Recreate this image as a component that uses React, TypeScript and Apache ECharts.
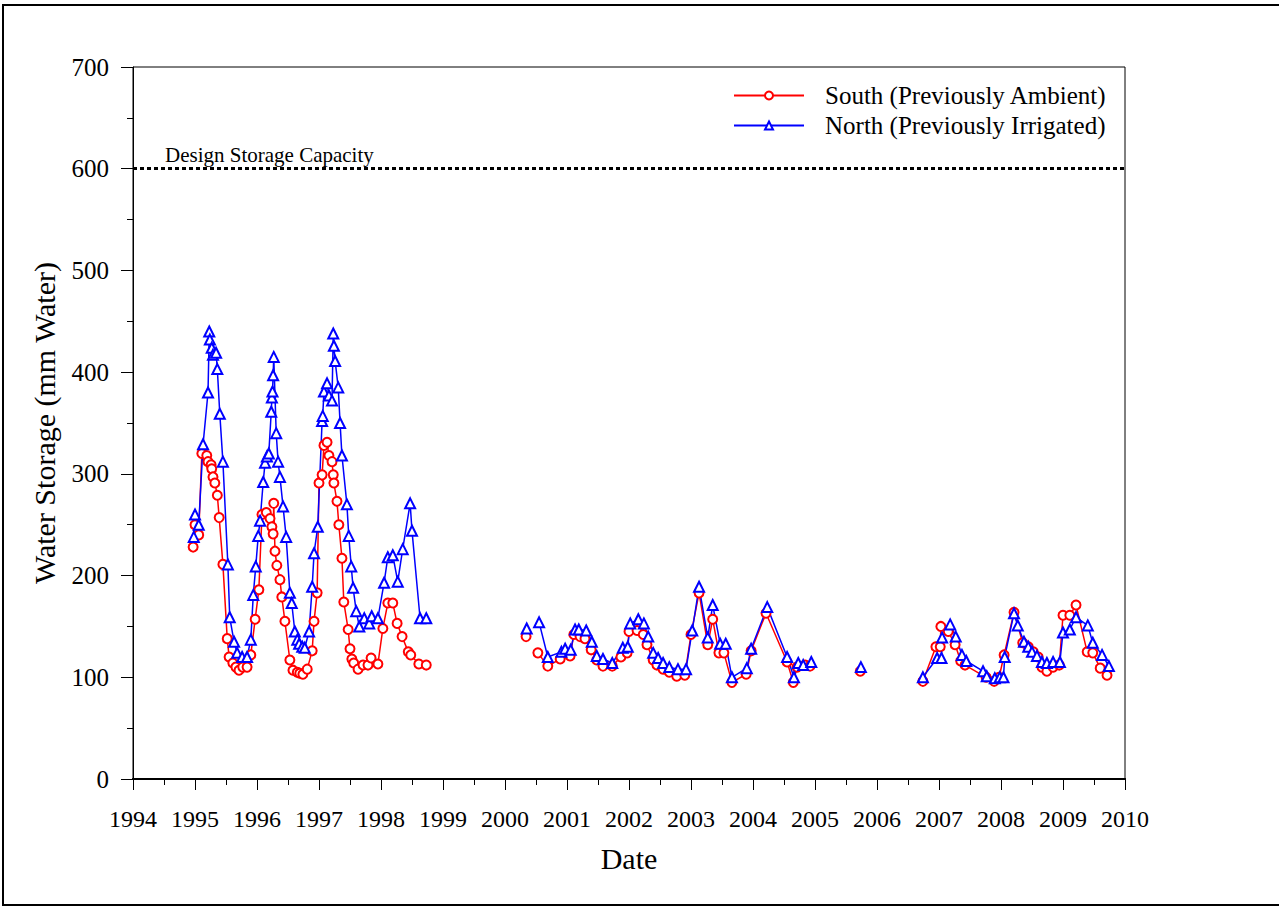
import React, { useEffect, useRef } from "react";
import * as echarts from "echarts";

type Pt = [number, number | null];

// South (Previously Ambient): [decimal year, water storage mm]; null = gap in record
const south: Pt[] = [
  [1994.97, 228], [1995.0, 250], [1995.06, 240], [1995.11, 320], [1995.19, 318], [1995.21, 312],
  [1995.26, 309], [1995.27, 305], [1995.29, 297], [1995.32, 291], [1995.36, 279], [1995.39, 257],
  [1995.45, 211], [1995.52, 138], [1995.55, 120], [1995.61, 114], [1995.66, 110], [1995.71, 107],
  [1995.77, 110], [1995.84, 110], [1995.9, 122], [1995.97, 157], [1996.03, 186], [1996.08, 260],
  [1996.15, 262], [1996.21, 256], [1996.24, 248], [1996.26, 241], [1996.27, 271], [1996.29, 224],
  [1996.32, 210], [1996.37, 196], [1996.4, 179], [1996.45, 155], [1996.53, 117], [1996.58, 107],
  [1996.65, 105], [1996.69, 104], [1996.74, 103], [1996.81, 108], [1996.89, 126], [1996.92, 155],
  [1996.97, 183], [1997.0, 291], [1997.05, 299], [1997.08, 328], [1997.13, 331], [1997.16, 318],
  [1997.21, 312], [1997.23, 299], [1997.24, 291], [1997.29, 273], [1997.32, 250], [1997.37, 217],
  [1997.4, 174], [1997.47, 147], [1997.5, 128], [1997.53, 118], [1997.56, 114], [1997.63, 108],
  [1997.71, 112], [1997.79, 112], [1997.84, 119], [1997.95, 113], [1998.03, 148], [1998.11, 173],
  [1998.19, 173], [1998.26, 153], [1998.34, 140], [1998.44, 125], [1998.48, 122], [1998.61, 113],
  [1998.73, 112],
  [1999.5, null],
  [2000.34, 140],
  [2000.45, null],
  [2000.53, 124], [2000.69, 111], [2000.89, 118], [2001.05, 121], [2001.11, 142], [2001.21, 140],
  [2001.29, 138], [2001.39, 127], [2001.48, 117], [2001.58, 111], [2001.73, 111], [2001.87, 120],
  [2001.97, 124], [2002.0, 145], [2002.13, 146], [2002.23, 142], [2002.29, 132], [2002.39, 117],
  [2002.45, 112], [2002.55, 108], [2002.65, 105], [2002.77, 101], [2002.9, 102], [2003.0, 142],
  [2003.13, 183], [2003.27, 132], [2003.35, 157], [2003.45, 124], [2003.53, 124], [2003.66, 95],
  [2003.89, 103], [2003.97, 126], [2004.21, 163], [2004.55, 115], [2004.65, 95], [2004.71, 110],
  [2004.84, 112], [2004.92, 111],
  [2005.3, null],
  [2005.73, 106],
  [2006.2, null],
  [2006.74, 96], [2006.95, 130], [2007.02, 130], [2007.03, 150], [2007.15, 145], [2007.26, 132],
  [2007.35, 116], [2007.42, 112], [2007.76, 100], [2007.89, 96], [2007.97, 100], [2008.05, 122],
  [2008.21, 164], [2008.35, 134], [2008.44, 130], [2008.52, 125], [2008.6, 120], [2008.66, 110],
  [2008.74, 106], [2008.84, 110], [2008.94, 112], [2009.0, 161], [2009.11, 161], [2009.21, 171],
  [2009.39, 125], [2009.48, 124], [2009.6, 109], [2009.71, 102],
];

// North (Previously Irrigated)
const north: Pt[] = [
  [1994.98, 238], [1995.0, 260], [1995.06, 250], [1995.13, 329], [1995.21, 380], [1995.23, 440],
  [1995.24, 432], [1995.27, 424], [1995.29, 417], [1995.34, 419], [1995.36, 403], [1995.4, 359],
  [1995.45, 312], [1995.53, 211], [1995.56, 159], [1995.63, 135], [1995.68, 124], [1995.76, 120],
  [1995.84, 120], [1995.9, 137], [1995.94, 181], [1995.98, 209], [1996.02, 239], [1996.05, 254],
  [1996.1, 292], [1996.13, 311], [1996.16, 317], [1996.19, 320], [1996.23, 361], [1996.24, 375],
  [1996.25, 381], [1996.26, 397], [1996.27, 415], [1996.31, 340], [1996.34, 312], [1996.37, 297],
  [1996.42, 268], [1996.47, 238], [1996.53, 183], [1996.56, 173], [1996.61, 145], [1996.65, 137],
  [1996.68, 133], [1996.73, 130], [1996.77, 129], [1996.84, 145], [1996.89, 189], [1996.92, 222],
  [1996.98, 248], [1997.05, 352], [1997.06, 357], [1997.08, 381], [1997.13, 389], [1997.16, 377],
  [1997.21, 372], [1997.23, 438], [1997.24, 426], [1997.26, 411], [1997.31, 385], [1997.34, 350],
  [1997.37, 318], [1997.45, 270], [1997.48, 239], [1997.52, 209], [1997.55, 188], [1997.6, 165],
  [1997.65, 150], [1997.73, 158], [1997.81, 153], [1997.85, 160], [1997.95, 158], [1998.05, 193],
  [1998.11, 218], [1998.19, 220], [1998.27, 194], [1998.35, 226], [1998.47, 271], [1998.5, 244],
  [1998.63, 158], [1998.73, 158],
  [1999.5, null],
  [2000.35, 148],
  [2000.45, null],
  [2000.55, 154], [2000.69, 120], [2000.91, 125], [2000.97, 128], [2001.06, 127], [2001.13, 147],
  [2001.19, 147], [2001.31, 146], [2001.4, 135], [2001.48, 121], [2001.58, 118], [2001.73, 114],
  [2001.9, 129], [2001.98, 130], [2002.02, 153], [2002.15, 157], [2002.24, 153], [2002.31, 140],
  [2002.39, 124], [2002.47, 119], [2002.55, 114], [2002.65, 110], [2002.79, 108], [2002.92, 108],
  [2003.02, 146], [2003.13, 189], [2003.27, 139], [2003.35, 171], [2003.47, 133], [2003.56, 133],
  [2003.66, 100], [2003.9, 109], [2003.97, 128], [2004.23, 169], [2004.55, 120], [2004.66, 100],
  [2004.73, 114], [2004.81, 112], [2004.94, 115],
  [2005.3, null],
  [2005.74, 110],
  [2006.2, null],
  [2006.74, 100], [2006.97, 119], [2007.04, 119], [2007.05, 139], [2007.18, 152], [2007.27, 140],
  [2007.37, 122], [2007.44, 116], [2007.71, 106], [2007.77, 101], [2007.9, 99], [2007.98, 100],
  [2008.04, 100], [2008.06, 120], [2008.21, 163], [2008.27, 151], [2008.37, 135], [2008.44, 130],
  [2008.5, 125], [2008.58, 121], [2008.66, 115], [2008.74, 114], [2008.84, 115], [2008.95, 115],
  [2009.0, 144], [2009.11, 147], [2009.21, 159], [2009.4, 151], [2009.48, 134], [2009.63, 122],
  [2009.74, 111],
];

const designCapacity = 600;
const seriesNames = ["South (Previously Ambient)", "North (Previously Irrigated)"];

const FONT = "'Liberation Serif', 'Times New Roman', serif";

const toData = (pts: Pt[]) => pts.map(([x, y]) => [x, y === null ? "-" : y]);

export default function App() {
  const ref = useRef<HTMLDivElement>(null);
  useEffect(() => {
    document.body.style.margin = "0";
    const chart = echarts.init(ref.current!, null, { renderer: "svg" });
    chart.setOption({
      animation: false,
      backgroundColor: "#fff",
      grid: { left: 133, right: 154, top: 67, bottom: 128, show: true, borderColor: "#000", borderWidth: 1 },
      graphic: [
        {
          type: "rect",
          shape: { x: 3, y: 5, width: 1300, height: 900 },
          style: { fill: "none", stroke: "#000", lineWidth: 2 },
          silent: true,
        },
      ],
      legend: {
        orient: "vertical",
        left: 728,
        top: 78,
        itemWidth: 70,
        itemHeight: 10,
        itemGap: 5,
        textStyle: { fontFamily: FONT, fontSize: 25, color: "#000", padding: [0, 0, 0, 16] },
        data: seriesNames,
      },
      xAxis: [
        {
          type: "value",
          min: 1994,
          max: 2010,
          interval: 1,
          name: "Date",
          nameLocation: "middle",
          nameGap: 64,
          nameTextStyle: { fontFamily: FONT, fontSize: 30, color: "#000" },
          axisLine: { show: true, onZero: false, lineStyle: { color: "#000", width: 2 } },
          axisTick: { show: true, length: 11, lineStyle: { color: "#000" } },
          minorTick: { show: true, splitNumber: 2, length: 6, lineStyle: { color: "#000" } },
          axisLabel: {
            margin: 28,
            fontFamily: FONT,
            fontSize: 24,
            color: "#000",
            formatter: (v: number) => String(v),
          },
          splitLine: { show: false },
        },
        {
          type: "value",
          position: "top",
          min: 1994,
          max: 2010,
          axisLine: { show: true, lineStyle: { color: "#000", width: 2 } },
          axisTick: { show: false },
          axisLabel: { show: false },
          splitLine: { show: false },
        },
      ],
      yAxis: {
        type: "value",
        min: 0,
        max: 700,
        interval: 100,
        name: "Water Storage (mm Water)",
        nameLocation: "middle",
        nameGap: 74,
        nameTextStyle: { fontFamily: FONT, fontSize: 30, color: "#000" },
        axisLine: { show: true, lineStyle: { color: "#000", width: 1 } },
        axisTick: { show: true, length: 12, lineStyle: { color: "#000" } },
        minorTick: { show: true, splitNumber: 2, length: 6, lineStyle: { color: "#000" } },
        axisLabel: { margin: 24, fontFamily: FONT, fontSize: 25, color: "#000" },
        splitLine: { show: false },
      },
      series: [
        {
          name: seriesNames[0],
          type: "line",
          data: toData(south),
          connectNulls: false,
          symbol: "emptyCircle",
          symbolSize: 9,
          color: "#ff0000",
          lineStyle: { color: "#ff0000", width: 1.5 },
          itemStyle: { color: "#ff0000", borderColor: "#ff0000", borderWidth: 1 },
          markLine: {
            silent: true,
            symbol: ["none", "none"],
            data: [{ yAxis: designCapacity }],
            lineStyle: { type: [4, 3], color: "#000", width: 3 },
            label: {
              show: true,
              position: "insideStartTop",
              formatter: "Design Storage Capacity",
              fontFamily: FONT,
              fontSize: 21,
              color: "#000",
              distance: [32, 3],
            },
          },
        },
        {
          name: seriesNames[1],
          type: "line",
          data: toData(north),
          connectNulls: false,
          symbol: "emptyTriangle",
          symbolSize: 10,
          color: "#0000ff",
          lineStyle: { color: "#0000ff", width: 1.5 },
          itemStyle: { color: "#0000ff", borderColor: "#0000ff", borderWidth: 1 },
        },
      ],
    });
    return () => chart.dispose();
  }, []);
  return <div ref={ref} style={{ width: 1279, height: 907 }} />;
}
